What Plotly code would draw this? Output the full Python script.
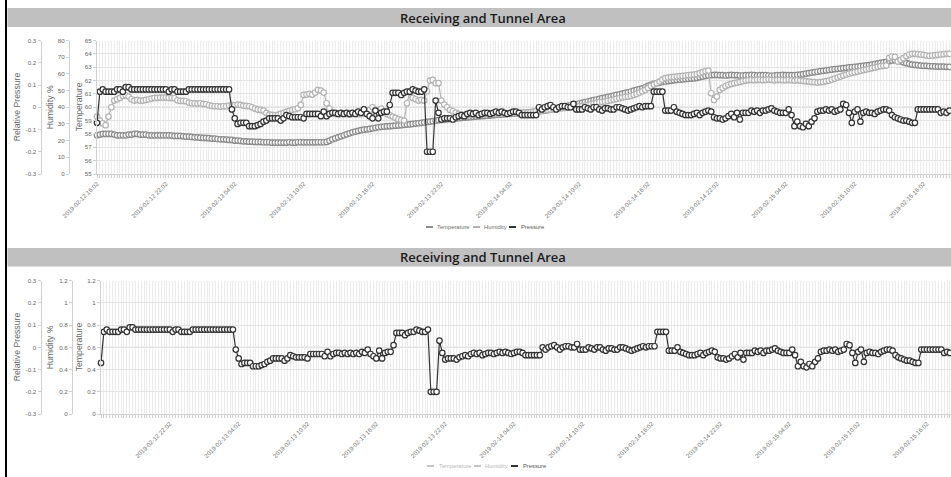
import plotly.graph_objects as go

W, H = 951, 477

# ---------------- data ----------------
time_labels = ["2019-02-12 16:02", "2019-02-12 22:02", "2019-02-13 04:02", "2019-02-13 10:02",
               "2019-02-13 16:02", "2019-02-13 22:02", "2019-02-14 04:02", "2019-02-14 10:02",
               "2019-02-14 16:02", "2019-02-14 22:02", "2019-02-15 04:02", "2019-02-15 10:02",
               "2019-02-15 16:02"]
label_step = 24  # readings between two labels (15-minute samples)

temperature = [
    57.9, 57.95, 58.0, 58.0, 58.0, 58.0, 57.95, 57.9, 57.9, 57.9, 57.9, 57.95, 57.95, 58.0, 58.0, 57.95, 57.95, 57.95, 57.9, 57.9, 57.9, 57.9, 57.9, 57.9,
    57.9, 57.9, 57.88, 57.85, 57.85, 57.85, 57.82, 57.8, 57.8, 57.78, 57.75, 57.75, 57.72, 57.7, 57.7, 57.68, 57.65, 57.65, 57.62, 57.6, 57.6, 57.58, 57.55, 57.55,
    57.5, 57.5, 57.48, 57.45, 57.45, 57.42, 57.42, 57.4, 57.4, 57.4, 57.38, 57.38, 57.38, 57.35, 57.35, 57.35, 57.35, 57.35, 57.35, 57.38, 57.35, 57.35, 57.38, 57.38,
    57.37, 57.37, 57.37, 57.37, 57.37, 57.38, 57.38, 57.38, 57.4, 57.5, 57.6, 57.67, 57.75, 57.82, 57.9, 57.97, 58.05, 58.12, 58.18, 58.23, 58.28, 58.32, 58.35, 58.38,
    58.42, 58.46, 58.5, 58.53, 58.55, 58.57, 58.58, 58.6, 58.62, 58.64, 58.66, 58.68, 58.7, 58.72, 58.75, 58.78, 58.8, 58.83, 58.86, 58.9, 58.93, 58.96, 59.0, 59.03,
    59.05, 59.07, 59.1, 59.12, 59.14, 59.16, 59.18, 59.2, 59.22, 59.24, 59.26, 59.28, 59.3, 59.32, 59.33, 59.35, 59.37, 59.38, 59.4, 59.42, 59.44, 59.46, 59.48, 59.5,
    59.5, 59.52, 59.54, 59.56, 59.58, 59.6, 59.62, 59.64, 59.66, 59.68, 59.7, 59.72, 59.75, 59.78, 59.82, 59.86, 59.9, 59.95, 60.0, 60.05, 60.1, 60.15, 60.2, 60.24,
    60.28, 60.33, 60.38, 60.43, 60.48, 60.53, 60.58, 60.63, 60.68, 60.72, 60.77, 60.82, 60.87, 60.92, 60.97, 61.02, 61.07, 61.12, 61.18, 61.24, 61.3, 61.36, 61.42, 61.5,
    61.6, 61.68, 61.75, 61.8, 61.85, 61.9, 61.93, 61.96, 61.99, 62.02, 62.05, 62.07, 62.09, 62.11, 62.13, 62.15, 62.17, 62.2, 62.25, 62.3, 62.35, 62.38, 62.4, 62.42,
    62.42, 62.4, 62.4, 62.38, 62.4, 62.42, 62.4, 62.4, 62.38, 62.38, 62.4, 62.4, 62.42, 62.4, 62.38, 62.4, 62.4, 62.4, 62.38, 62.36, 62.38, 62.4, 62.4, 62.42,
    62.4, 62.4, 62.4, 62.4, 62.42, 62.45, 62.48, 62.52, 62.56, 62.6, 62.63, 62.66, 62.7, 62.73, 62.76, 62.79, 62.82, 62.85, 62.88, 62.9, 62.93, 62.95, 62.98, 63.0,
    63.02, 63.05, 63.08, 63.1, 63.13, 63.16, 63.2, 63.24, 63.28, 63.32, 63.36, 63.4, 63.45, 63.5, 63.52, 63.5, 63.45, 63.38, 63.3, 63.25, 63.2, 63.17, 63.15, 63.12,
    63.1, 63.1, 63.08, 63.07, 63.06, 63.05, 63.05, 63.04, 63.03, 63.03, 63.02, 63.02,
]

humidity = [
    34.4, 32.0, 30.4, 29.2, 34.4, 40.0, 44.0, 44.8, 45.6, 46.8, 47.2, 46.4, 44.8, 44.0, 44.4, 44.0, 44.0, 44.4, 44.8, 45.2, 45.6, 45.6, 45.8, 45.8,
    45.8, 45.6, 45.6, 45.4, 44.2, 43.8, 43.8, 43.6, 42.8, 42.4, 42.4, 42.2, 42.4, 42.0, 41.8, 41.2, 40.8, 40.6, 40.6, 40.4, 40.6, 40.6, 41.0, 41.4,
    41.2, 41.6, 41.4, 41.0, 40.8, 40.6, 40.0, 39.2, 38.6, 38.4, 38.0, 36.6, 35.6, 35.4, 35.2, 35.4, 36.0, 36.6, 37.2, 37.8, 38.4, 38.8, 39.4, 41.4,
    47.4, 47.6, 48.0, 47.6, 48.8, 50.4, 50.0, 48.8, 42.4, 39.2, 36.8, 36.0, 36.0, 35.8, 36.2, 36.0, 35.6, 36.0, 36.2, 35.8, 36.0, 36.4, 37.2, 38.4,
    40.0, 38.4, 36.8, 39.2, 36.8, 36.0, 35.2, 34.4, 33.6, 32.8, 32.4, 32.0, 42.4, 48.8, 45.6, 44.8, 44.0, 44.4, 44.0, 49.6, 56.0, 56.4, 54.4, 54.4,
    44.0, 41.6, 40.0, 38.4, 37.6, 36.8, 36.0, 35.6, 35.4, 35.2, 35.4, 35.6, 35.6, 35.8, 35.8, 36.0, 36.0, 36.0, 36.2, 36.0, 36.0, 36.2, 36.4, 36.4,
    36.4, 36.4, 36.6, 36.4, 36.6, 36.8, 36.8, 37.0, 37.2, 37.6, 37.8, 38.0, 38.2, 38.4, 38.6, 38.8, 39.0, 39.2, 39.4, 39.6, 39.8, 40.0, 40.2, 40.4,
    40.6, 40.8, 41.0, 41.4, 41.8, 42.2, 42.6, 43.0, 43.2, 43.4, 43.8, 44.2, 44.6, 45.0, 45.4, 45.8, 46.2, 46.4, 46.8, 47.4, 48.0, 48.8, 49.6, 50.4,
    51.6, 52.8, 53.6, 54.4, 55.4, 56.6, 57.4, 57.8, 58.0, 58.2, 58.4, 58.6, 58.8, 59.0, 59.2, 59.4, 59.6, 59.8, 60.4, 61.0, 61.6, 62.0, 48.4, 44.4,
    46.4, 50.4, 51.6, 52.6, 53.4, 54.0, 54.4, 54.8, 55.2, 55.6, 56.0, 56.2, 56.4, 56.2, 56.4, 56.4, 56.2, 56.4, 56.6, 56.4, 56.2, 56.4, 56.4, 56.2,
    56.2, 56.4, 56.2, 56.0, 56.2, 56.0, 55.8, 55.6, 55.4, 55.2, 55.0, 54.8, 55.0, 55.2, 55.6, 56.0, 56.6, 57.2, 57.8, 58.4, 59.0, 59.6, 60.2, 60.6,
    61.0, 61.4, 61.8, 62.2, 62.6, 63.0, 63.4, 63.8, 64.2, 64.6, 64.8, 65.0, 69.6, 70.4, 70.2, 67.4, 68.4, 69.4, 70.6, 71.6, 72.0, 72.0, 71.8, 71.6,
    71.4, 71.0, 70.8, 71.0, 71.2, 71.4, 71.6, 71.8, 72.0, 72.0, 72.2, 72.2,
]

pressure = [
    -0.07, 0.07, 0.08, 0.07, 0.07, 0.07, 0.07, 0.08, 0.08, 0.07, 0.09, 0.09, 0.08, 0.08, 0.08, 0.08, 0.08, 0.08, 0.08, 0.08, 0.08, 0.08, 0.08, 0.08,
    0.08, 0.07, 0.08, 0.08, 0.07, 0.07, 0.07, 0.07, 0.08, 0.08, 0.08, 0.08, 0.08, 0.08, 0.08, 0.08, 0.08, 0.08, 0.08, 0.08, 0.08, 0.08, 0.08, -0.01,
    -0.05, -0.075, -0.07, -0.07, -0.07, -0.085, -0.085, -0.085, -0.08, -0.075, -0.065, -0.06, -0.05, -0.05, -0.05, -0.05, -0.06, -0.05, -0.035, -0.04, -0.045, -0.045, -0.045, -0.045,
    -0.05, -0.03, -0.03, -0.03, -0.03, -0.03, -0.04, -0.02, -0.04, -0.03, -0.025, -0.025, -0.03, -0.025, -0.03, -0.025, -0.03, -0.025, -0.03, -0.02, -0.025, -0.01, -0.03, -0.04,
    -0.05, -0.015, -0.05, -0.025, -0.02, -0.02, 0.01, 0.065, 0.065, 0.065, 0.055, 0.065, 0.07, 0.07, 0.08, 0.075, 0.07, 0.07, 0.08, -0.2, -0.2, -0.2, 0.03, -0.025,
    -0.055, -0.05, -0.05, -0.05, -0.055, -0.045, -0.04, -0.035, -0.04, -0.03, -0.025, -0.03, -0.025, -0.035, -0.03, -0.025, -0.025, -0.03, -0.025, -0.02, -0.025, -0.02, -0.025, -0.03,
    -0.025, -0.02, -0.02, -0.025, -0.035, -0.035, -0.035, -0.035, -0.035, -0.035, 0.0, -0.01, 0.0, 0.005, 0.01, 0.0, -0.01, 0.0, 0.005, 0.005, 0.0, 0.0, 0.015, -0.01,
    -0.01, -0.01, 0.0, -0.005, -0.01, 0.0, 0.0, -0.01, -0.015, -0.005, -0.005, -0.01, -0.01, 0.0, 0.0, -0.005, -0.01, -0.015, -0.01, -0.005, 0.0, 0.005, 0.0, 0.005,
    0.005, 0.005, 0.07, 0.07, 0.07, 0.07, -0.015, -0.015, -0.015, 0.0, -0.02, -0.025, -0.03, -0.035, -0.035, -0.035, -0.03, -0.025, -0.035, -0.025, -0.02, -0.015, -0.02, -0.045,
    -0.05, -0.05, -0.055, -0.05, -0.04, -0.03, -0.045, -0.025, -0.055, -0.025, -0.025, -0.025, -0.015, -0.02, -0.015, -0.025, -0.015, -0.015, -0.01, -0.005, -0.015, -0.02, -0.025, -0.025,
    -0.025, -0.01, -0.035, -0.085, -0.065, -0.085, -0.09, -0.075, -0.085, -0.065, -0.05, -0.02, -0.015, -0.015, -0.01, -0.015, -0.01, -0.02, -0.015, -0.01, 0.015, 0.01, -0.025, -0.07,
    -0.02, -0.01, -0.065, -0.025, -0.02, -0.025, -0.025, -0.03, -0.02, -0.015, -0.01, -0.01, -0.015, -0.035, -0.045, -0.05, -0.055, -0.06, -0.06, -0.065, -0.07, -0.07, -0.01, -0.01,
    -0.01, -0.01, -0.01, -0.01, -0.01, -0.01, -0.025, -0.02, -0.025, -0.015, -0.01, -0.01,
]

temp_ticks_top = [55, 56, 57, 58, 59, 60, 61, 62, 63, 64, 65]
hum_ticks_top = [0, 10, 20, 30, 40, 50, 60, 70, 80]
unit_ticks_bottom = [0, 0.2, 0.4, 0.6, 0.8, 1, 1.2]
unit_ticktext_bottom = ["0", "0.2", "0.4", "0.6", "0.8", "1", "1.2"]
pres_ticks = [-0.3, -0.2, -0.1, 0, 0.1, 0.2, 0.3]
pres_ticktext = ["-0.3", "-0.2", "-0.1", "0", "0.1", "0.2", "0.3"]

# ---------------- styling ----------------
TITLE = "Receiving and Tunnel Area"
TEMP_C = "#8c8c8c"
HUM_C = "#b3b3b3"
PRES_C = "#333333"
TICK_C = "#666666"
AXLINE_C = "#d0d0d0"
GRID_C = "#e3e3e3"
VGRID_C = "#ebebeb"
FONT = "Liberation Sans, Arial, sans-serif"

idx = list(range(len(pressure)))


def px(x):
    return x / W


def py(y):
    return 1 - y / H


top = dict(left=97, right=951, top=40.5, bottom=174, step=2.87, hum=69, pres=40.5)
bot = dict(left=101, right=951, top=280.7, bottom=414, step=2.868, hum=72, pres=40.5)

top_text = [time_labels[i // label_step] if i % label_step == 0 else "" for i in idx]
bot_text = [time_labels[i // label_step] if (i % label_step == 0 and i > 0) else "" for i in idx]

fig = go.Figure()


def series(y, color, xa, ya):
    return go.Scatter(
        x=idx, y=y, xaxis=xa, yaxis=ya, mode="lines+markers",
        line=dict(color=color, width=1.2),
        marker=dict(size=5.5, color="white", line=dict(color=color, width=1.2)),
        cliponaxis=False, showlegend=False, hoverinfo="skip",
    )


fig.add_trace(series(temperature, TEMP_C, "x", "y"))
fig.add_trace(series(humidity, HUM_C, "x", "y2"))
fig.add_trace(series(pressure, PRES_C, "x", "y3"))
# bottom panel: temperature and humidity hidden, only pressure shown
fig.add_trace(go.Scatter(x=[None], y=[None], xaxis="x2", yaxis="y4", showlegend=False, hoverinfo="skip"))
fig.add_trace(go.Scatter(x=[None], y=[None], xaxis="x2", yaxis="y5", showlegend=False, hoverinfo="skip"))
fig.add_trace(series(pressure, PRES_C, "x2", "y6"))

tickfont = dict(family=FONT, size=6.2, color=TICK_C)


def xaxis(p, anchor, text):
    return dict(
        domain=[px(p["left"]), 1], anchor=anchor, automargin=False,
        range=[0, (p["right"] - p["left"]) / p["step"]],
        tickmode="array", tickvals=idx, ticktext=text, tickangle=-45,
        tickfont=dict(family=FONT, size=6.1, color="#6e6e6e"),
        showgrid=True, gridcolor=VGRID_C, gridwidth=1,
        ticks="outside", ticklen=3, tickcolor=AXLINE_C,
        showline=True, linecolor=AXLINE_C, zeroline=False, fixedrange=True,
    )


def yaxis_main(p, anchor, rng, vals, text=None):
    d = dict(
        domain=[py(p["bottom"]), py(p["top"])], anchor=anchor, range=rng, automargin=False,
        tickmode="array", tickvals=vals, tickfont=tickfont,
        showgrid=True, gridcolor=GRID_C, gridwidth=1,
        showline=True, linecolor=AXLINE_C, ticks="outside", ticklen=3, tickcolor=AXLINE_C,
        zeroline=False, fixedrange=True,
    )
    if text is not None:
        d["ticktext"] = text
    return d


def yaxis_free(over, pos, rng, vals, text=None):
    d = dict(
        overlaying=over, anchor="free", position=px(pos), side="left", range=rng, automargin=False,
        tickmode="array", tickvals=vals, tickfont=tickfont,
        showgrid=False, showline=True, linecolor=AXLINE_C,
        ticks="outside", ticklen=3, tickcolor=AXLINE_C, zeroline=False, fixedrange=True,
    )
    if text is not None:
        d["ticktext"] = text
    return d


fig.update_layout(
    template="none",
    width=W, height=H, margin=dict(l=0, r=0, t=0, b=0, pad=0), autosize=False,
    paper_bgcolor="white", plot_bgcolor="white", showlegend=False,
    font=dict(family=FONT, color=TICK_C),
    xaxis=xaxis(top, "y", top_text),
    yaxis=yaxis_main(top, "x", [55, 65], temp_ticks_top),
    yaxis2=yaxis_free("y", top["hum"], [0, 80], hum_ticks_top),
    yaxis3=yaxis_free("y", top["pres"], [-0.3, 0.3], pres_ticks, pres_ticktext),
    xaxis2=xaxis(bot, "y4", bot_text),
    yaxis4=yaxis_main(bot, "x2", [0, 1.2], unit_ticks_bottom, unit_ticktext_bottom),
    yaxis5=yaxis_free("y4", bot["hum"], [0, 1.2], unit_ticks_bottom, unit_ticktext_bottom),
    yaxis6=yaxis_free("y4", bot["pres"], [-0.3, 0.3], pres_ticks, pres_ticktext),
)

shapes = []
# left black frame edge
shapes.append(dict(type="line", xref="paper", yref="paper", x0=px(6), x1=px(6), y0=0, y1=1,
                   line=dict(color="black", width=2)))
# title bars
for y0, y1 in [(8, 27), (248, 266.5)]:
    shapes.append(dict(type="rect", xref="paper", yref="paper", x0=px(7.5), x1=1, y0=py(y1), y1=py(y0),
                       fillcolor="#c0c0c0", line=dict(width=0), layer="below"))
# zero lines of the pressure axes
shapes.append(dict(type="line", xref="x domain", yref="y3", x0=0, x1=1, y0=0, y1=0,
                   line=dict(color="#a6a6a6", width=1), layer="below"))
shapes.append(dict(type="line", xref="x2 domain", yref="y6", x0=0, x1=1, y0=0, y1=0,
                   line=dict(color="#a6a6a6", width=1), layer="below"))

annotations = []
for yc in [17.5, 257.2]:
    annotations.append(dict(text=TITLE, xref="paper", yref="paper", x=px(483), y=py(yc),
                            xanchor="center", yanchor="middle", showarrow=False,
                            font=dict(family="Open Sans, sans-serif", size=13, color="#1a1a1a", weight=600)))

axis_titles = [("Relative Pressure", 17), ("Humidity %", 50), ("Temperature", 79)]
for p in (top, bot):
    yc = (p["top"] + p["bottom"]) / 2
    for text, xc in axis_titles:
        annotations.append(dict(text=text, xref="paper", yref="paper", x=px(xc), y=py(yc),
                                xanchor="center", yanchor="middle", textangle=-90, showarrow=False,
                                font=dict(family=FONT, size=8.7, color=TICK_C)))

# custom legends (line swatch + label)
legend_items = [
    ("Temperature", TEMP_C, "#6e6e6e", "#c4c4c4", "#b8b8b8"),
    ("Humidity", HUM_C, "#6e6e6e", "#c4c4c4", "#b8b8b8"),
    ("Pressure", PRES_C, "#555555", PRES_C, "#555555"),
]
legend_rows = [
    (227, [426, 473, 509], [435, 482, 519], False),
    (466, [427, 474, 511], [437, 483, 521], True),
]
for yl, lx, tx, hidden in legend_rows:
    for (name, col, tcol, hcol, htcol), x0, xt in zip(legend_items, lx, tx):
        lc = hcol if hidden else col
        tc = htcol if hidden else tcol
        shapes.append(dict(type="line", xref="paper", yref="paper", x0=px(x0), x1=px(x0 + 7),
                           y0=py(yl), y1=py(yl), line=dict(color=lc, width=2)))
        annotations.append(dict(text=name, xref="paper", yref="paper", x=px(xt), y=py(yl),
                                xanchor="left", yanchor="middle", showarrow=False,
                                font=dict(family=FONT, size=5.8, color=tc)))

fig.update_layout(shapes=shapes, annotations=annotations)

page_js = (
    "var s=document.createElement('style');"
    "s.textContent='html,body{margin:0;padding:0;overflow:hidden;width:951px;height:477px;scrollbar-width:none;}"
    "::-webkit-scrollbar{display:none;width:0;height:0;}';"
    "document.head.appendChild(s);"
)

fig.write_html(
    "out.html",
    config={"displayModeBar": False, "staticPlot": True},
    post_script=page_js,
)
